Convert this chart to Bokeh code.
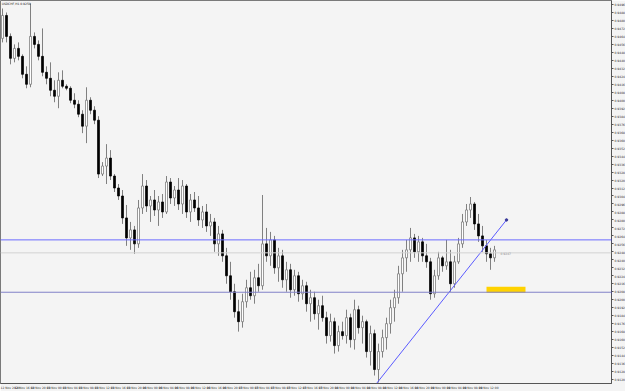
from bokeh.plotting import figure
from bokeh.models import Range1d, FixedTicker, PrintfTickFormatter, Span, Label, ColumnDataSource
from bokeh.embed import file_html
from bokeh.resources import INLINE

title_text = "USDCHF,H1  0.9250"

opens = [0.9462, 0.9485, 0.9464, 0.9442, 0.9452, 0.9444, 0.9426, 0.9416, 0.9464, 0.9456,
         0.9444, 0.9428, 0.9422, 0.9410, 0.9404, 0.9420, 0.9414, 0.9412, 0.9400, 0.9396,
         0.9386, 0.9374, 0.9400, 0.9390, 0.9380, 0.9326, 0.9334, 0.9342, 0.9324, 0.9312,
         0.9304, 0.9282, 0.9262, 0.9270, 0.9256, 0.9292, 0.9314, 0.9294, 0.9300, 0.9290,
         0.9298, 0.9288, 0.9318, 0.9302, 0.9310, 0.9296, 0.9314, 0.9288, 0.9300, 0.9292,
         0.9280, 0.9288, 0.9274, 0.9278, 0.9256, 0.9266, 0.9244, 0.9224, 0.9208, 0.9188,
         0.9178, 0.9198, 0.9212, 0.9204, 0.9222, 0.9214, 0.9256, 0.9244, 0.9260, 0.9232,
         0.9244, 0.9220, 0.9230, 0.9210, 0.9224, 0.9206, 0.9214, 0.9196, 0.9202, 0.9186,
         0.9194, 0.9182, 0.9164, 0.9178, 0.9154, 0.9168, 0.9164, 0.9182, 0.9160, 0.9190,
         0.9172, 0.9178, 0.9148, 0.9166, 0.9130, 0.9148, 0.9162, 0.9176, 0.9192, 0.9202,
         0.9226, 0.9242, 0.9250, 0.9262, 0.9248, 0.9258, 0.9244, 0.9238, 0.9206, 0.9224,
         0.9242, 0.9234, 0.9238, 0.9216, 0.9238, 0.9256, 0.9278, 0.9290, 0.9296, 0.9276,
         0.9264, 0.9254, 0.9246, 0.9242]
highs = [0.9492, 0.9488, 0.9467, 0.9456, 0.9458, 0.9446, 0.9434, 0.9497, 0.9468, 0.9460,
         0.9472, 0.9434, 0.9438, 0.9420, 0.9428, 0.9430, 0.9416, 0.9414, 0.9407, 0.9400,
         0.9390, 0.9413, 0.9403, 0.9394, 0.9384, 0.9338, 0.9356, 0.9350, 0.9326, 0.9316,
         0.9310, 0.9295, 0.9278, 0.9274, 0.9300, 0.9326, 0.9320, 0.9304, 0.9310, 0.9304,
         0.9306, 0.9324, 0.9322, 0.9314, 0.9322, 0.9320, 0.9316, 0.9306, 0.9308, 0.9304,
         0.9294, 0.9296, 0.9286, 0.9282, 0.9274, 0.9270, 0.9252, 0.9238, 0.9216, 0.9200,
         0.9206, 0.9220, 0.9228, 0.9230, 0.9236, 0.9305, 0.9272, 0.9268, 0.9264, 0.9252,
         0.9250, 0.9238, 0.9236, 0.9230, 0.9228, 0.9220, 0.9218, 0.9210, 0.9208, 0.9200,
         0.9204, 0.9188, 0.9186, 0.9182, 0.9174, 0.9178, 0.9190, 0.9186, 0.9200, 0.9194,
         0.9184, 0.9180, 0.9174, 0.9170, 0.9156, 0.9170, 0.9182, 0.9200, 0.9210, 0.9234,
         0.9250, 0.9260, 0.9272, 0.9266, 0.9264, 0.9262, 0.9256, 0.9242, 0.9230, 0.9248,
         0.9244, 0.9260, 0.9250, 0.9244, 0.9262, 0.9286, 0.9296, 0.9303, 0.9298, 0.9286,
         0.9274, 0.9260, 0.9252, 0.9254]
lows = [0.9458, 0.9458, 0.9436, 0.9438, 0.9440, 0.9422, 0.9412, 0.9413, 0.9452, 0.9440,
        0.9424, 0.9416, 0.9404, 0.9398, 0.9392, 0.9412, 0.9410, 0.9397, 0.9392, 0.9383,
        0.9367, 0.9357, 0.9386, 0.9376, 0.9322, 0.9324, 0.9316, 0.9320, 0.9308, 0.9300,
        0.9276, 0.9254, 0.9250, 0.9246, 0.9252, 0.9286, 0.9288, 0.9278, 0.9284, 0.9274,
        0.9282, 0.9286, 0.9296, 0.9294, 0.9290, 0.9286, 0.9282, 0.9278, 0.9288, 0.9274,
        0.9272, 0.9268, 0.9264, 0.9248, 0.9244, 0.9238, 0.9216, 0.9200, 0.9182, 0.9168,
        0.9172, 0.9192, 0.9200, 0.9196, 0.9208, 0.9210, 0.9238, 0.9234, 0.9226, 0.9218,
        0.9212, 0.9208, 0.9202, 0.9204, 0.9198, 0.9200, 0.9188, 0.9178, 0.9180, 0.9170,
        0.9178, 0.9156, 0.9158, 0.9146, 0.9148, 0.9160, 0.9156, 0.9152, 0.9150, 0.9166,
        0.9156, 0.9142, 0.9134, 0.9124, 0.9117, 0.9142, 0.9150, 0.9166, 0.9178, 0.9196,
        0.9208, 0.9228, 0.9238, 0.9242, 0.9238, 0.9238, 0.9232, 0.9200, 0.9202, 0.9220,
        0.9228, 0.9230, 0.9208, 0.9212, 0.9236, 0.9252, 0.9274, 0.9282, 0.9270, 0.9258,
        0.9248, 0.9238, 0.9230, 0.9238]
closes = [0.9485, 0.9464, 0.9442, 0.9452, 0.9444, 0.9426, 0.9416, 0.9464, 0.9456, 0.9444,
          0.9428, 0.9422, 0.9410, 0.9404, 0.9420, 0.9414, 0.9412, 0.9400, 0.9396, 0.9386,
          0.9374, 0.9400, 0.9390, 0.9380, 0.9326, 0.9334, 0.9342, 0.9324, 0.9312, 0.9304,
          0.9282, 0.9262, 0.9270, 0.9256, 0.9292, 0.9314, 0.9294, 0.9300, 0.9290, 0.9298,
          0.9288, 0.9318, 0.9302, 0.9310, 0.9296, 0.9314, 0.9288, 0.9300, 0.9292, 0.9280,
          0.9288, 0.9274, 0.9278, 0.9256, 0.9266, 0.9244, 0.9224, 0.9208, 0.9188, 0.9178,
          0.9198, 0.9212, 0.9204, 0.9222, 0.9214, 0.9256, 0.9244, 0.9260, 0.9232, 0.9244,
          0.9220, 0.9230, 0.9210, 0.9224, 0.9206, 0.9214, 0.9196, 0.9202, 0.9186, 0.9194,
          0.9182, 0.9164, 0.9178, 0.9154, 0.9168, 0.9164, 0.9182, 0.9160, 0.9190, 0.9172,
          0.9178, 0.9148, 0.9166, 0.9130, 0.9148, 0.9162, 0.9176, 0.9192, 0.9202, 0.9226,
          0.9242, 0.9250, 0.9262, 0.9248, 0.9258, 0.9244, 0.9238, 0.9206, 0.9224, 0.9242,
          0.9234, 0.9238, 0.9216, 0.9238, 0.9256, 0.9278, 0.9290, 0.9296, 0.9276, 0.9264,
          0.9254, 0.9246, 0.9242, 0.9250]

time_labels = ["12 Nov 2020", "12 Nov 16:00", "12 Nov 20:00", "13 Nov 00:00", "13 Nov 04:00",
               "13 Nov 08:00", "13 Nov 12:00", "13 Nov 16:00", "13 Nov 20:00", "16 Nov 00:00",
               "16 Nov 04:00", "16 Nov 08:00", "16 Nov 12:00", "16 Nov 16:00", "16 Nov 20:00",
               "17 Nov 00:00", "17 Nov 04:00", "17 Nov 08:00", "17 Nov 12:00", "17 Nov 16:00",
               "17 Nov 20:00", "18 Nov 00:00", "18 Nov 04:00", "18 Nov 08:00", "18 Nov 12:00",
               "18 Nov 16:00", "18 Nov 20:00", "19 Nov 00:00", "19 Nov 04:00", "19 Nov 08:00",
               "19 Nov 12:00"]

resistance_level = 0.9260
support_level = 0.92075
bid_level = 0.9247
trend_x = [93.5, 126.0]
trend_y = [0.9116, 0.9280]
zone_left, zone_right, zone_bottom, zone_top = 121.0, 130.75, 0.9207, 0.9213

n = len(opens)
idx = list(range(n))
up = [c >= o for o, c in zip(opens, closes)]
src = ColumnDataSource(dict(
    x=idx, o=opens, h=highs, l=lows, c=closes,
    top=[max(o, c) for o, c in zip(opens, closes)],
    bottom=[min(o, c) for o, c in zip(opens, closes)],
    fill=["#ffffff" if u else "#000000" for u in up],
    line=["#6e6e6e" if u else "#000000" for u in up],
))

FS = "3px"
p = figure(frame_width=611, frame_height=383, output_backend="svg", toolbar_location=None,
           x_range=Range1d(-0.5, 152.25), y_range=Range1d(0.9116, 0.9500),
           y_axis_location="right",
           min_border_left=0, min_border_top=0, min_border_right=0, min_border_bottom=0,
           background_fill_color="#f4f4f4", border_fill_color="#f4f4f4",
           outline_line_color="#7a7a7a")
p.grid.visible = False

# axes
yticks = [round(0.9496 - 0.0008 * k, 4) for k in range(48)]
p.yaxis.ticker = FixedTicker(ticks=yticks)
p.yaxis.formatter = PrintfTickFormatter(format="%.4f")
xticks = [4 * k + 1.5 for k in range(len(time_labels))]
p.xaxis.ticker = FixedTicker(ticks=xticks)
p.xaxis.major_label_overrides = {t: s for t, s in zip(xticks, time_labels)}
for ax in (p.xaxis[0], p.yaxis[0]):
    ax.major_label_text_font_size = FS
    ax.major_label_text_font = "DejaVu Sans"
    ax.major_label_text_color = "#303030"
    ax.major_tick_out = 2
    ax.major_tick_in = 0
    ax.minor_tick_out = 0
    ax.minor_tick_in = 0
    ax.major_label_standoff = 1
    ax.axis_line_color = "#555555"
    ax.major_tick_line_color = "#555555"
p.xaxis.major_tick_line_color = None
p.xaxis.major_tick_out = 0
p.xaxis.major_label_standoff = 2

# horizontal levels
p.add_layout(Span(location=bid_level, dimension="width", line_color="#d2d2d2", line_width=1))
p.add_layout(Span(location=resistance_level, dimension="width", line_color="#6a6aff", line_width=1))
p.add_layout(Span(location=support_level, dimension="width", line_color="#8282c8", line_width=1))

# zone
p.quad(left=zone_left, right=zone_right, bottom=zone_bottom, top=zone_top,
       fill_color="#ffd200", line_color=None)

# candles
p.segment(x0="x", y0="l", x1="x", y1="h", source=src, line_color="#808080", line_width=1)
p.vbar(x="x", width=0.5, top="top", bottom="bottom", source=src,
       fill_color="fill", line_color="line", line_width=0.7)

# trendline
p.line(trend_x, trend_y, line_color="#5a5aff", line_width=1)
p.scatter([trend_x[1]], [trend_y[1]], size=2.5, color="#3a3a9a")

# texts
p.add_layout(Label(x=124.5, y=bid_level, text="0.9247", text_font_size=FS,
                   text_color="#909090", text_baseline="middle", text_font="DejaVu Sans"))
p.add_layout(Label(x=-0.2, y=0.94985, text=title_text,
                   text_font_size=FS, text_color="#202020", text_baseline="top",
                   text_font="DejaVu Sans"))
for lvl, txt in ((resistance_level, "0.9260"), (support_level, "0.9208")):
    p.add_layout(Label(x=152.3, y=lvl, text=txt, text_font_size=FS, text_color="white",
                       text_baseline="middle", text_font="DejaVu Sans",
                       background_fill_color="#2a2aff", padding=1))

open("out.html", "w").write(file_html(p, INLINE))
